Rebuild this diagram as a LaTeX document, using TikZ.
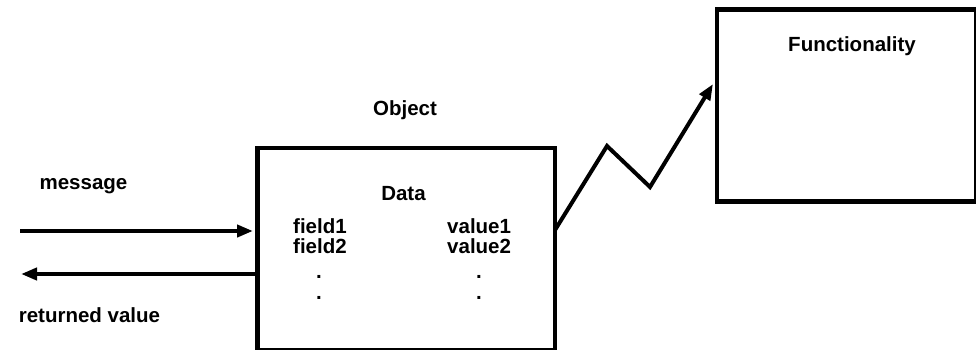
\documentclass[tikz,border=0pt]{standalone}
\usepackage{fontspec}
\setmainfont{Liberation Sans}
\usetikzlibrary{arrows.meta}
\begin{document}
\begin{tikzpicture}[x=1pt,y=-1pt,
  box/.style={draw,line width=4.5pt},
  lbl/.style={font=\fontsize{20.5}{22}\selectfont\bfseries,inner sep=0pt,anchor=base},
  conn/.style={line width=4pt,-{Triangle[length=16pt,width=12pt]}}]
\useasboundingbox (0,0) rectangle (976,350);
% boxes
\node[box,minimum width=297.5pt,minimum height=202pt,inner sep=0pt,anchor=north west] (object) at (255,145.5) {};
\node[box,minimum width=259.5pt,minimum height=191.5pt,inner sep=0pt,anchor=north west] (func) at (714.5,7.5) {};
\coordinate (objL1) at (253,231);
\coordinate (objL2) at (255,274);
\coordinate (msgS) at (20,231);
\coordinate (retE) at (21,274);
\coordinate (objR) at (555,230);
\coordinate (z1) at (607,146);
\coordinate (z2) at (650,187);
\coordinate (funL) at (713,84);
% texts
\node[lbl] (obj) at (405,116) {Object};
\node[lbl] (fun) at (852,52) {Functionality};
\node[lbl] (data) at (403.5,200) {Data};
\node[lbl] (msg) at (83.5,189) {message};
\node[lbl] (ret) at (89.5,322) {returned value};
\node[lbl,anchor=base west] (f1) at (293,233) {field1};
\node[lbl,anchor=base west] (f2) at (293,253) {field2};
\node[lbl,anchor=base west] (v1) at (447,233) {value1};
\node[lbl,anchor=base west] (v2) at (447,253) {value2};
\node[lbl] (d1) at (319,278) {.};
\node[lbl] (d2) at (319,299) {.};
\node[lbl] (d3) at (479,278) {.};
\node[lbl] (d4) at (479,299) {.};
% connectors
\draw[conn] (msgS) -- (objL1);
\draw[conn] (objL2) -- (retE);
\draw[conn,line join=miter] (objR) -- (z1) -- (z2) -- (funL);
\end{tikzpicture}
\end{document}
